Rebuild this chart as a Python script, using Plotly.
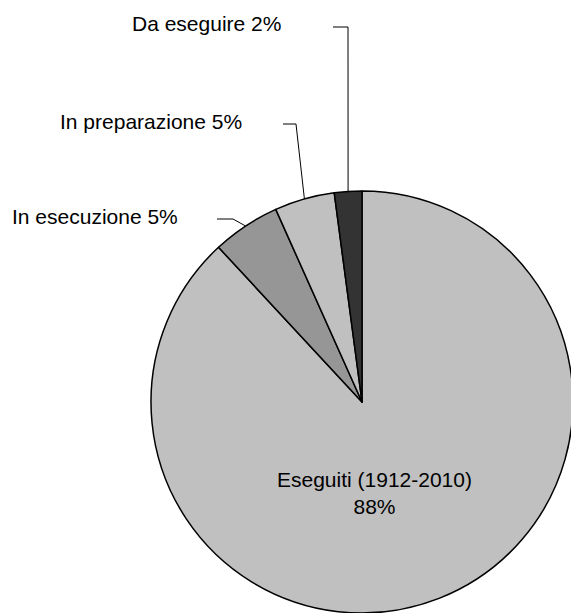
import math
import plotly.graph_objects as go

# ---- data ----
labels = ["Eseguiti (1912-2010)", "In esecuzione", "In preparazione", "Da eseguire"]
values = [88.1, 5.2, 4.6, 2.1]
colors = ["#c0c0c0", "#969696", "#c0c0c0", "#333333"]

# ---- layout constants (figure pixels; page adds an 8px body margin) ----
W, H = 571, 605
CX, CY, R = 354, 394, 211
FONT = dict(family="Liberation Sans, Arial, sans-serif", size=21, color="#000000")

def px(x):
    return x / W

def py(y):
    return 1 - y / H

fig = go.Figure()
fig.add_trace(go.Pie(
    labels=labels, values=values, sort=False, direction="clockwise", rotation=0,
    marker=dict(colors=colors, line=dict(color="#000000", width=1.5)),
    textinfo="none", hoverinfo="label+percent", showlegend=False,
    domain=dict(x=[px(CX - R), px(CX + R)], y=[max(0, py(CY + R)), py(CY - R)]),
))

total = sum(values)
pcts = [round(v / total * 100) for v in values]

# cumulative start angles (clockwise from 12 o'clock)
starts = []
acc = 0
for v in values:
    starts.append(acc / total * 360)
    acc += v

def attach(i):
    a = math.radians(starts[i] + values[i] / total * 180)
    return CX + R * math.sin(a), CY - R * math.cos(a)

# outside label placements: (text right x, text center y, elbow x, elbow y, line start x)
outside = {
    3: (275, 15, 340, 19, 325),
    2: (236, 113, 288, 116, 275),
    1: (172, 208, 225, 211, 209),
}

annotations = []
shapes = []
for i, (tx, ty, ex, ey, lx) in outside.items():
    annotations.append(dict(
        text=f"{labels[i]} {pcts[i]}%", x=px(tx), y=py(ty), xref="paper", yref="paper",
        xanchor="right", yanchor="middle", showarrow=False, font=FONT,
    ))
    ax, ay = attach(i)
    shapes.append(dict(
        type="path", xref="paper", yref="paper",
        path=f"M {px(lx)} {py(ey)} L {px(ex)} {py(ey)} L {px(ax)} {py(ay)}",
        line=dict(color="#000000", width=1),
    ))

annotations.append(dict(
    text=f"{labels[0]}<br>{pcts[0]}%", x=px(366), y=py(485), xref="paper", yref="paper",
    xanchor="center", yanchor="middle", showarrow=False, font=FONT,
))

fig.update_layout(
    width=W, height=H, margin=dict(l=0, r=0, t=0, b=0),
    paper_bgcolor="#ffffff", plot_bgcolor="#ffffff",
    annotations=annotations, shapes=shapes, showlegend=False,
)

fig.write_html("out.html")
